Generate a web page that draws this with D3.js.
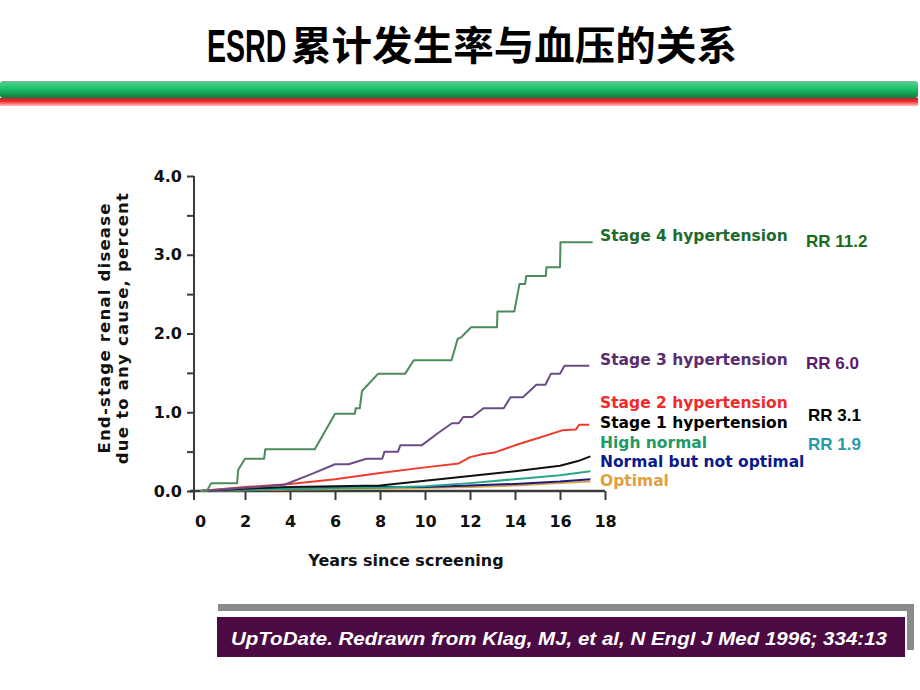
<!DOCTYPE html>
<html>
<head>
<meta charset="utf-8">
<script src="https://cdn.jsdelivr.net/npm/d3@7"></script>
<style>
  body { margin: 0; background: #fff; }
  svg { display: block; }
</style>
</head>
<body>
<svg id="chart" width="920" height="690"></svg>
<script>
const W = 920, H = 690
const titleLatin = 'ESRD'
const titleCjk = '累计发生率与血压的关系'
const yTitle = ['End-stage renal disease', 'due to any cause, percent']
const xTitle = 'Years since screening'
const citation = 'UpToDate. Redrawn from Klag, MJ, et al, N Engl J Med 1996; 334:13'
const xTicks = [0, 2, 4, 6, 8, 10, 12, 14, 16, 18]
const yTicks = [0, 0.5, 1, 1.5, 2, 2.5, 3, 3.5, 4]

// curves: [years, percent]
const stage4 = [[0, 0], [0.3, 0], [0.5, 0.1], [1.65, 0.1], [1.7, 0.27], [2.0, 0.41], [2.85, 0.41], [2.9, 0.53], [5.1, 0.53],
  [5.8, 0.88], [6.0, 0.98], [6.88, 0.98], [6.92, 1.05], [7.1, 1.05], [7.2, 1.27], [7.92, 1.49], [9.12, 1.49], [9.5, 1.66],
  [11.18, 1.66], [11.45, 1.93], [11.6, 1.95], [12.05, 2.08], [13.2, 2.08], [13.22, 2.28], [13.97, 2.28], [14.2, 2.63],
  [14.45, 2.63], [14.5, 2.73], [15.37, 2.73], [15.4, 2.84], [16.0, 2.84], [16.02, 3.16], [17.45, 3.16]]
const stage3 = [[0, 0], [2, 0.04], [3.75, 0.08], [5.0, 0.22], [6.0, 0.34], [6.6, 0.34], [7.4, 0.41], [8.1, 0.41], [8.2, 0.5],
  [8.8, 0.5], [8.9, 0.58], [9.85, 0.58], [10.6, 0.74], [11.2, 0.86], [11.5, 0.86], [11.7, 0.94], [12.1, 0.94], [12.6, 1.05],
  [13.5, 1.05], [13.8, 1.19], [14.35, 1.19], [14.95, 1.35], [15.35, 1.35], [15.6, 1.49], [16.0, 1.49], [16.2, 1.59], [17.3, 1.59]]
const stage2 = [[0, 0], [2, 0.05], [4, 0.09], [6, 0.15], [8, 0.23], [10, 0.3], [11.5, 0.35], [12, 0.43], [12.6, 0.47],
  [13.1, 0.49], [14, 0.58], [15, 0.67], [16.1, 0.77], [16.7, 0.78], [16.85, 0.84], [17.3, 0.84]]
const stage1 = [[0, 0], [2, 0.03], [4, 0.05], [6, 0.06], [8, 0.07], [10, 0.13], [12, 0.19], [14, 0.25], [16, 0.32],
  [16.8, 0.38], [17.35, 0.44]]
const highNormal = [[0, 0], [4, 0.03], [8, 0.04], [10, 0.06], [12, 0.1], [14, 0.15], [16, 0.2], [17.35, 0.25]]
const normalNotOptimal = [[0, 0], [4, 0.03], [8, 0.05], [10, 0.05], [12, 0.07], [14, 0.09], [16, 0.12], [17.35, 0.15]]
const optimal = [[0, 0], [4, 0.02], [8, 0.03], [12, 0.05], [14, 0.07], [16, 0.1], [17.35, 0.12]]

const series = [
  {name: 'Optimal', values: optimal, line: '#d9a24a', text: '#e0a040', ly: 481},
  {name: 'Normal but not optimal', values: normalNotOptimal, line: '#1c1c78', text: '#0b1a8c', ly: 462},
  {name: 'High normal', values: highNormal, line: '#2aa58a', text: '#1f9a68', ly: 443},
  {name: 'Stage 1 hypertension', values: stage1, line: '#111111', text: '#000000', ly: 423},
  {name: 'Stage 2 hypertension', values: stage2, line: '#ee3b2e', text: '#f02a2a', ly: 403},
  {name: 'Stage 3 hypertension', values: stage3, line: '#6b4c86', text: '#5a2d6e', ly: 360},
  {name: 'Stage 4 hypertension', values: stage4, line: '#4d8a5c', text: '#1f6b2e', ly: 236}
]
const rrLabels = [
  {text: 'RR 11.2', x: 806, y: 241, color: '#1a6b1a'},
  {text: 'RR 6.0', x: 806, y: 363, color: '#5a1a6e'},
  {text: 'RR 3.1', x: 808, y: 415, color: '#000000'},
  {text: 'RR 1.9', x: 808, y: 444, color: '#2a9aa8'}
]

const svg = d3.select('#chart')

// title: condensed latin part + CJK part
svg.append('text')
  .attr('transform', 'translate(207,62) scale(0.62,1)')
  .style('font-family', '"Liberation Sans", Arial, sans-serif')
  .style('font-weight', 'bold')
  .style('font-size', '46px')
  .attr('fill', '#000')
  .text(titleLatin)
svg.append('text')
  .attr('x', 291).attr('y', 60)
  .attr('textLength', 446).attr('lengthAdjust', 'spacingAndGlyphs')
  .style('font-family', '"Noto Sans CJK SC", sans-serif')
  .style('font-weight', 'bold')
  .style('font-size', '40px')
  .attr('fill', '#000')
  .text(titleCjk)

// header bars
let defs = svg.append('defs')
let gGreen = defs.append('linearGradient').attr('id', 'gGreen').attr('x1', 0).attr('x2', 0).attr('y1', 0).attr('y2', 1)
gGreen.append('stop').attr('offset', '0%').attr('stop-color', '#7bb79a')
gGreen.append('stop').attr('offset', '20%').attr('stop-color', '#33d27e')
gGreen.append('stop').attr('offset', '70%').attr('stop-color', '#10a856')
gGreen.append('stop').attr('offset', '100%').attr('stop-color', '#2f6a45')
let gRed = defs.append('linearGradient').attr('id', 'gRed').attr('x1', 0).attr('x2', 0).attr('y1', 0).attr('y2', 1)
gRed.append('stop').attr('offset', '0%').attr('stop-color', '#8a3a30')
gRed.append('stop').attr('offset', '40%').attr('stop-color', '#ff2424')
gRed.append('stop').attr('offset', '100%').attr('stop-color', '#ffc0c0')
svg.append('rect').attr('x', 0).attr('y', 81).attr('width', 918).attr('height', 17).attr('rx', 3).attr('fill', 'url(#gGreen)')
svg.append('rect').attr('x', 0).attr('y', 98).attr('width', 918).attr('height', 8).attr('fill', 'url(#gRed)')

// scales
const x = d3.scaleLinear().domain([0, 18]).range([200, 605])
const y = d3.scaleLinear().domain([0, 4]).range([491, 176])
const axisX = 194
const axisColor = '#3a3a3a'
const tickFont = '"DejaVu Sans", Verdana, sans-serif'

// y axis
let yAxis = svg.append('g')
  .attr('transform', `translate(${axisX},0)`)
  .call(d3.axisLeft(y).tickValues(yTicks).tickSize(7).tickPadding(5)
    .tickFormat(d => Number.isInteger(d) ? d3.format('.1f')(d) : ''))
yAxis.select('.domain').remove()
yAxis.selectAll('line').attr('stroke', axisColor).attr('stroke-width', 2)
yAxis.selectAll('text').style('font-family', tickFont).style('font-weight', 'bold').style('font-size', '16px').attr('fill', '#111')

// x axis
let xAxis = svg.append('g')
  .attr('transform', `translate(0,${y(0)})`)
  .call(d3.axisBottom(x).tickValues(xTicks).tickSize(9).tickPadding(16))
xAxis.select('.domain').remove()
xAxis.selectAll('line').attr('stroke', axisColor).attr('stroke-width', 2)
xAxis.selectAll('.tick').filter(d => d === 0).select('line').remove()
xAxis.selectAll('text').style('font-family', tickFont).style('font-weight', 'bold').style('font-size', '16px').attr('fill', '#111')

svg.append('line').attr('x1', axisX).attr('x2', axisX).attr('y1', y(4)).attr('y2', y(0) + 9)
  .attr('stroke', axisColor).attr('stroke-width', 2)
svg.append('line').attr('x1', axisX - 4).attr('x2', x(18)).attr('y1', y(0)).attr('y2', y(0))
  .attr('stroke', axisColor).attr('stroke-width', 2.5)

// axis titles
let yt = svg.append('text')
  .attr('transform', 'translate(0,328) rotate(-90)')
  .attr('text-anchor', 'middle')
  .style('font-family', tickFont).style('font-weight', 'bold').style('font-size', '16.5px')
  .style('letter-spacing', '1.2px')
  .attr('fill', '#111')
yt.selectAll('tspan').data(yTitle).enter().append('tspan')
  .attr('x', 0).attr('y', (d, i) => 110 + i * 18)
  .text(d => d)

svg.append('text')
  .attr('x', 406).attr('y', 566)
  .attr('text-anchor', 'middle')
  .style('font-family', tickFont).style('font-weight', 'bold').style('font-size', '16px')
  .attr('fill', '#111')
  .text(xTitle)

// curves
let line = d3.line().x(d => x(d[0])).y(d => y(d[1]))
svg.append('g').selectAll('path')
  .data(series).enter().append('path')
  .attr('d', d => line(d.values))
  .attr('fill', 'none')
  .attr('stroke', d => d.line)
  .attr('stroke-width', 2)
  .attr('stroke-linejoin', 'round')

// labels
svg.append('g').selectAll('text')
  .data(series).enter().append('text')
  .attr('x', 600).attr('y', d => d.ly)
  .attr('dy', '0.35em')
  .style('font-family', tickFont).style('font-weight', 'bold').style('font-size', '15.5px')
  .attr('fill', d => d.text)
  .text(d => d.name)

svg.append('g').selectAll('text')
  .data(rrLabels).enter().append('text')
  .attr('x', d => d.x).attr('y', d => d.y)
  .attr('dy', '0.35em')
  .style('font-family', '"Liberation Sans", Arial, sans-serif').style('font-weight', 'bold').style('font-size', '17px')
  .attr('fill', d => d.color)
  .text(d => d.text)

// citation box
svg.append('rect').attr('x', 218).attr('y', 604).attr('width', 696).attr('height', 7).attr('fill', '#8a8a8a')
svg.append('rect').attr('x', 907).attr('y', 604).attr('width', 7).attr('height', 46).attr('fill', '#8a8a8a')
svg.append('rect').attr('x', 217).attr('y', 617).attr('width', 688).attr('height', 40).attr('fill', '#4b0a43')
svg.append('text')
  .attr('x', 559).attr('y', 645)
  .attr('text-anchor', 'middle')
  .attr('textLength', 656).attr('lengthAdjust', 'spacingAndGlyphs')
  .style('font-family', '"Liberation Sans", Arial, sans-serif')
  .style('font-weight', 'bold').style('font-style', 'italic').style('font-size', '19px')
  .attr('fill', '#fff')
  .text(citation)
</script>
</body>
</html>
